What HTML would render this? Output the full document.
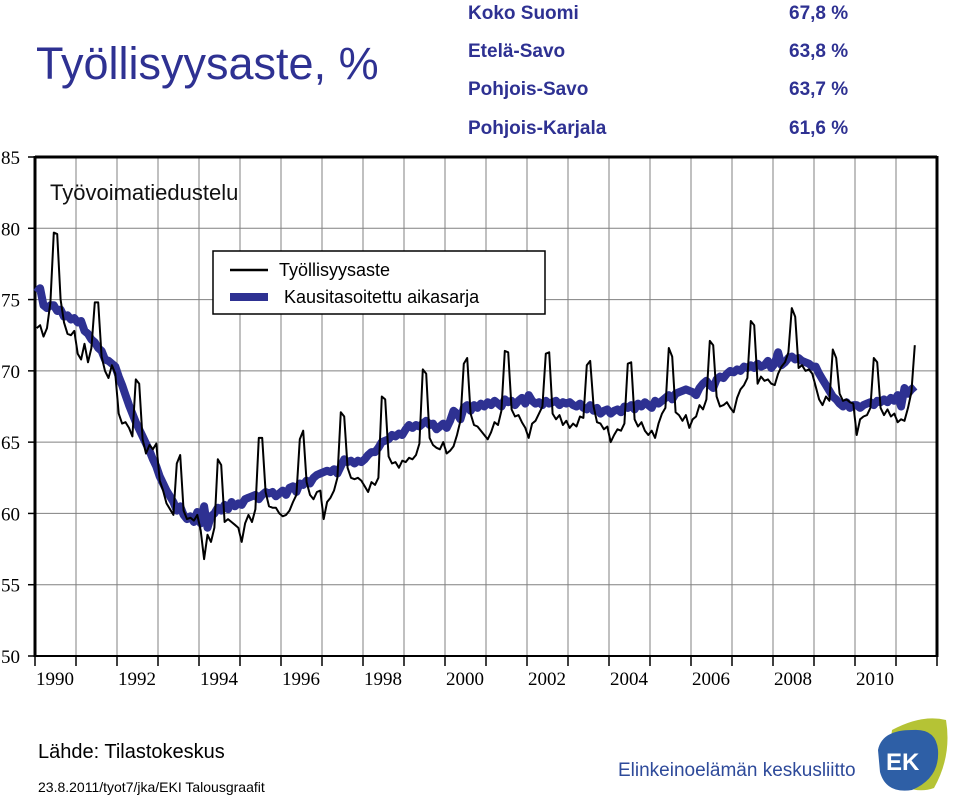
<!DOCTYPE html>
<html><head><meta charset="utf-8">
<style>
body{margin:0;width:960px;height:805px;background:#fff;overflow:hidden;position:relative;font-family:"Liberation Sans",sans-serif}
.t{position:absolute;white-space:nowrap}
.st{color:#2e3192;font-weight:bold;font-size:19px}
</style></head><body>
<div class="t" style="left:36px;top:38px;font-size:45px;color:#2e3192">Työllisyysaste, %</div>
<div class="t st" style="left:468px;top:3px">Koko Suomi</div>
<div class="t st" style="left:789px;top:3px">67,8 %</div>
<div class="t st" style="left:468px;top:41px">Etelä-Savo</div>
<div class="t st" style="left:789px;top:41px">63,8 %</div>
<div class="t st" style="left:468px;top:79px">Pohjois-Savo</div>
<div class="t st" style="left:789px;top:79px">63,7 %</div>
<div class="t st" style="left:468px;top:118px">Pohjois-Karjala</div>
<div class="t st" style="left:789px;top:118px">61,6 %</div>
<svg id="chart" width="960" height="700" style="position:absolute;left:0;top:0"></svg>
<div class="t" style="left:38px;top:741px;font-size:20px">Lähde: Tilastokeskus</div>
<div class="t" style="left:38px;top:779px;font-size:14px">23.8.2011/tyot7/jka/EKI Talousgraafit</div>
<div class="t" style="left:618px;top:760px;font-size:19px;color:#2e4a9a">Elinkeinoelämän keskusliitto</div>
<svg width="80" height="80" style="position:absolute;left:872px;top:716px">
<path d="M20 14 Q50 -2 74 4 Q80 40 62 72 Q40 80 14 60 Z" fill="#b5c335"/>
<path d="M6 34 Q10 14 40 14 Q64 12 66 34 Q68 62 40 74 Q14 78 8 56 Z" fill="#2e5fa6"/>
<text x="14" y="54" font-family="Liberation Sans" font-weight="bold" font-size="24" fill="#fff">EK</text>
</svg>
<script>
const yTicks=[50,55,60,65,70,75,80,85];
const xTickYears=[1990,1992,1994,1996,1998,2000,2002,2004,2006,2008,2010];
const startYear=1990;
const raw=[
73.0,73.2,72.4,73.0,74.8,79.7,79.6,75.0,73.4,72.6,72.5,72.8,
71.2,70.8,71.9,70.6,71.6,74.8,74.8,71.0,70.0,69.5,70.4,69.8,
67.0,66.3,66.4,66.0,65.4,69.4,69.1,65.2,64.2,64.8,64.5,64.9,
62.3,61.6,60.7,60.3,59.9,63.5,64.1,60.2,59.6,59.7,59.5,59.9,
58.8,56.8,58.5,58.0,59.0,63.8,63.4,59.4,59.6,59.4,59.2,59.0,
58.0,59.3,59.9,59.4,60.3,65.3,65.3,61.5,60.5,60.4,60.4,60.0,
59.8,59.9,60.2,60.8,61.3,65.2,65.8,62.2,61.3,61.0,61.5,61.6,
59.6,60.8,61.1,61.6,62.5,67.1,66.8,63.2,62.5,62.4,62.5,62.3,
61.9,61.5,62.2,62.0,62.5,68.2,68.0,64.0,63.5,63.6,63.2,63.7,
63.6,63.9,63.8,64.1,64.9,70.1,69.8,65.3,64.8,64.6,64.5,65.0,
64.2,64.4,64.7,65.5,66.5,70.5,70.9,67.0,66.2,66.1,65.8,65.5,
65.2,65.7,66.4,66.2,67.2,71.4,71.3,67.3,66.8,66.9,66.4,66.0,
65.3,66.3,66.5,67.0,67.5,71.2,71.3,67.0,66.6,66.9,66.2,66.5,
66.0,66.3,66.1,66.8,66.7,70.4,70.7,67.5,66.4,66.3,65.9,66.1,
65.0,65.5,65.9,65.8,66.3,70.5,70.6,66.6,66.1,66.4,65.8,65.5,
65.8,65.3,66.3,67.0,67.4,71.6,71.0,67.1,66.9,66.5,66.9,66.0,
66.6,66.8,67.6,67.3,68.0,72.1,71.8,68.2,67.5,67.6,67.8,67.4,
67.1,68.1,68.7,69.0,69.5,73.5,73.2,69.1,69.6,69.3,69.4,69.1,
69.0,69.8,70.3,70.6,71.3,74.4,73.8,70.2,70.4,70.0,70.1,69.8,
68.9,68.0,67.6,68.2,67.9,71.5,70.9,68.4,67.9,68.0,67.8,67.7,
65.5,66.6,66.8,66.9,67.4,70.9,70.6,67.4,66.9,67.3,66.8,67.0,
66.4,66.6,66.5,67.4,68.5,71.8];
const sa=[
75.5,75.8,74.6,74.4,74.6,74.6,74.2,74.3,73.8,73.9,73.6,73.7,
73.4,73.5,72.8,72.6,72.2,72.0,71.6,71.4,70.8,70.7,70.5,70.3,
69.6,69.0,68.3,67.6,67.0,66.4,65.9,65.4,64.9,64.4,63.8,63.3,
62.6,62.1,61.6,61.2,60.8,60.2,60.5,59.9,59.6,59.8,59.4,60.1,
59.3,60.5,59.0,59.8,60.0,60.4,60.2,60.6,60.3,60.8,60.5,60.7,
60.6,61.0,61.1,61.2,61.3,61.0,61.3,61.5,61.4,61.5,61.2,61.4,
61.6,61.3,61.8,61.9,61.5,62.1,62.0,62.3,62.1,62.5,62.7,62.8,
62.9,63.0,62.9,63.1,62.8,63.3,63.8,63.6,63.7,63.5,63.7,63.6,
63.8,64.1,64.3,64.3,64.6,65.0,65.1,65.2,65.5,65.4,65.6,65.5,
65.9,66.2,66.0,66.2,66.1,66.3,66.5,66.2,66.3,65.9,66.1,66.3,
66.0,66.5,67.2,67.0,66.6,67.4,67.6,67.2,67.6,67.4,67.7,67.5,
67.8,67.6,67.9,67.7,67.5,68.0,67.8,67.9,67.6,67.9,68.1,67.7,
68.3,67.9,67.7,67.8,67.6,67.9,67.7,67.8,67.9,67.6,67.8,67.7,
67.8,67.6,67.5,67.7,67.4,67.3,67.6,67.2,67.4,67.0,67.2,67.3,
67.0,67.2,67.3,67.1,67.5,67.4,67.6,67.3,67.7,67.5,67.8,67.6,
67.4,67.9,67.7,67.9,68.1,68.3,68.0,68.4,68.5,68.6,68.7,68.6,
68.5,68.3,68.8,69.1,69.3,69.0,68.8,69.4,69.6,69.5,69.8,70.0,
69.9,70.1,70.0,70.3,70.2,70.4,70.2,70.5,70.3,70.4,70.7,70.2,
70.5,71.3,70.4,70.6,70.9,71.0,70.8,70.9,70.7,70.6,70.5,70.3,
70.3,69.8,69.4,69.0,68.6,68.2,68.0,67.7,67.5,67.8,67.4,67.6,
67.6,67.4,67.6,67.7,67.8,67.6,67.9,67.8,68.0,67.8,68.1,67.9,
68.3,67.5,68.8,68.4,68.7,68.9];
const X0=35,X1=937,Y85=157,Y50=656,nYears=22;
const xYear=y=>X0+(y-startYear)*(X1-X0)/nYears;
const xIdx=i=>xYear(startYear+(i+0.5)/12);
const yVal=v=>Y50-(v-50)*(Y50-Y85)/35;
const svg=document.getElementById('chart');
const NS='http://www.w3.org/2000/svg';
function mk(tag,attrs){const e=document.createElementNS(NS,tag);for(const k in attrs)e.setAttribute(k,attrs[k]);svg.appendChild(e);return e;}
for(let k=1;k<nYears;k++){const x=xYear(startYear+k);
const g=mk('line',{x1:x,x2:x,y1:Y85,y2:Y50,stroke:'#808080','stroke-width':1});

}
for(let k=0;k<=nYears;k++){const x=xYear(startYear+k);
const t=mk('line',{x1:x,x2:x,y1:Y50,y2:Y50+10,stroke:'#000','stroke-width':1.5});

}
yTicks.forEach(v=>{const y=yVal(v);
if(v>50&&v<85){const g=mk('line',{x1:X0,x2:X1,y1:y,y2:y,stroke:'#808080','stroke-width':1});

}
const tk=mk('line',{x1:X0-7,x2:X0,y1:y,y2:y,stroke:'#000','stroke-width':1.5});


const l=mk('text',{x:1,y:y+7,'font-family':'Liberation Serif','font-size':19,fill:'#000'});
l.textContent=v;

});
xTickYears.forEach(yr=>{const l=mk('text',{x:xYear(yr)+20,y:685,'font-family':'Liberation Serif','font-size':19,'text-anchor':'middle',fill:'#000'});
l.textContent=String(yr);

});
const topBorder=mk('line',{x1:X0,x2:X1,y1:Y85,y2:Y85,stroke:'#000','stroke-width':3});


const botAxis=mk('line',{x1:X0,x2:X1,y1:Y50,y2:Y50,stroke:'#000','stroke-width':2});


const leftAxis=mk('line',{x1:X0,x2:X0,y1:Y85-1,y2:Y50+1,stroke:'#000','stroke-width':3});


const rightAxis=mk('line',{x1:X1,x2:X1,y1:Y85-1,y2:Y50+1,stroke:'#000','stroke-width':3});


const subTitle=mk('text',{x:50,y:200,'font-family':'Liberation Sans','font-size':22,fill:'#111'});
subTitle.textContent='Työvoimatiedustelu';


const pts=a=>a.map((v,i)=>xIdx(i).toFixed(1)+','+yVal(v).toFixed(1)).join(' ');
const saLine=mk('polyline',{points:pts(sa),fill:'none',stroke:'#2e3192','stroke-width':8,'stroke-linejoin':'round'});


const rawLine=mk('polyline',{points:pts(raw),fill:'none',stroke:'#000','stroke-width':2,'stroke-linejoin':'round'});


const legendBox=mk('rect',{x:213,y:251,width:332,height:63,fill:'#fff',stroke:'#000','stroke-width':1.5});


const sw1=mk('line',{x1:230,x2:268,y1:270,y2:270,stroke:'#000','stroke-width':2.5});


const lt1=mk('text',{x:279,y:276,'font-family':'Liberation Sans','font-size':18,fill:'#000'});
lt1.textContent='Työllisyysaste';


const sw2=mk('line',{x1:230,x2:268,y1:297,y2:297,stroke:'#2e3192','stroke-width':8});


const lt2=mk('text',{x:284,y:303,'font-family':'Liberation Sans','font-size':18,fill:'#000'});
lt2.textContent='Kausitasoitettu aikasarja';


</script>
</body></html>
